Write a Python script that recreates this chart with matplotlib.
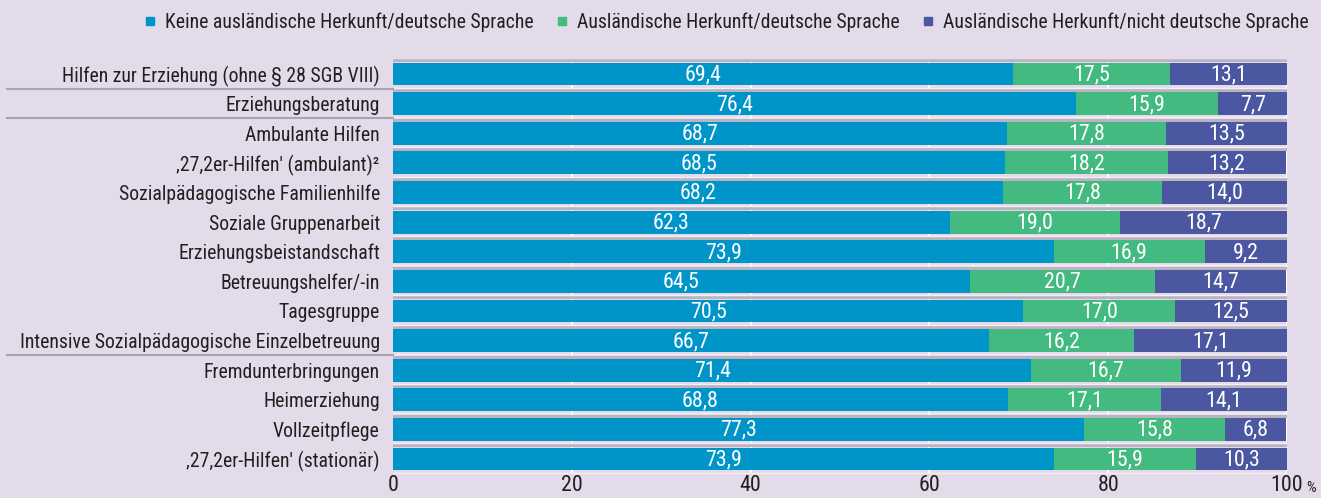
import matplotlib
matplotlib.use("Agg")
import matplotlib.pyplot as plt
from matplotlib.lines import Line2D
from matplotlib import font_manager

categories = [
    "Hilfen zur Erziehung (ohne § 28 SGB VIII)",
    "Erziehungsberatung",
    "Ambulante Hilfen",
    "‚27,2er-Hilfen' (ambulant)²",
    "Sozialpädagogische Familienhilfe",
    "Soziale Gruppenarbeit",
    "Erziehungsbeistandschaft",
    "Betreuungshelfer/-in",
    "Tagesgruppe",
    "Intensive Sozialpädagogische Einzelbetreuung",
    "Fremdunterbringungen",
    "Heimerziehung",
    "Vollzeitpflege",
    "‚27,2er-Hilfen' (stationär)",
]
keine = [69.4, 76.4, 68.7, 68.5, 68.2, 62.3, 73.9, 64.5, 70.5, 66.7, 71.4, 68.8, 77.3, 73.9]
ausl_dt = [17.5, 15.9, 17.8, 18.2, 17.8, 19.0, 16.9, 20.7, 17.0, 16.2, 16.7, 17.1, 15.8, 15.9]
ausl_ndt = [13.1, 7.7, 13.5, 13.2, 14.0, 18.7, 9.2, 14.7, 12.5, 17.1, 11.9, 14.1, 6.8, 10.3]
series_names = [
    "Keine ausländische Herkunft/deutsche Sprache",
    "Ausländische Herkunft/deutsche Sprache",
    "Ausländische Herkunft/nicht deutsche Sprache",
]
xticks = [0, 20, 40, 60, 80, 100]
separators_after = [0, 1, 9]

colors = ["#0095C8", "#43BB80", "#4C57A1"]
bg = "#E3DBEA"
txt = "#231F20"

avail = {f.name for f in font_manager.fontManager.ttflist}
fam = "DejaVu Sans"
for cand in ["Nimbus Sans Narrow", "Liberation Sans Narrow", "Arial Narrow", "Roboto Condensed",
             "Archivo Narrow", "PT Sans Narrow", "Fira Sans Condensed", "Pragati Narrow"]:
    if cand in avail:
        fam = cand
        break
plt.rcParams["font.family"] = [fam, "DejaVu Sans"]
FS_LABEL = 14.2
FS_VAL = 15.8

fig = plt.figure(figsize=(13.21, 4.98), dpi=100, facecolor=bg)
ax = fig.add_axes([0.2975, 0.0486, 0.9743 - 0.2975, 0.881 - 0.0486])
ax.set_facecolor(bg)

n = len(categories)
ys = list(range(n))
ax.set_xlim(0, 100)
ax.set_ylim(n - 0.5, -0.5)

# white vertical gridlines
for t in xticks[1:-1]:
    ax.axvline(t, color="white", lw=1.2, zorder=0)
ax.axvline(100, color="white", lw=1.5, zorder=0)

# gray row boundary lines
for b in [i - 0.5 for i in range(n + 1)]:
    ax.axhline(b + 0.04, color="#B9B4C0", lw=2.2, zorder=1)
    ax.axhline(b - 0.04, color="#F3EFF5", lw=1.0, zorder=1)

h = 0.77
lefts = [0.0] * n
for vals, col in zip([keine, ausl_dt, ausl_ndt], colors):
    ax.barh(ys, vals, left=lefts, height=h, color=col, zorder=2, linewidth=0)
    for y, v, l in zip(ys, vals, lefts):
        ax.text(l + v / 2, y + 0.03, f"{v:.1f}".replace(".", ","), ha="center", va="center",
                color="white", fontsize=FS_VAL, zorder=3)
    lefts = [a + b for a, b in zip(lefts, vals)]

ax.set_yticks(ys)
ax.set_yticklabels(categories, fontsize=FS_LABEL, color=txt)
ax.set_xticks(xticks)
ax.set_xticklabels([str(t) for t in xticks], fontsize=FS_VAL, color=txt)
ax.tick_params(axis="both", length=0)
ax.tick_params(axis="y", pad=9.5)
ax.tick_params(axis="x", pad=1)
for s in ax.spines.values():
    s.set_visible(False)

# separators in label area
for i in separators_after:
    y = i + 0.5
    ax.plot([-0.432, 0], [y, y], transform=ax.get_yaxis_transform(), color="#A8A3AE",
            lw=1.5, clip_on=False, zorder=1)

fig.text(0.9885, 0.006, "%", fontsize=11, color=txt, ha="left", va="bottom")

handles = [Line2D([], [], marker="s", linestyle="none", markersize=6, color=c) for c in colors]
leg = fig.legend(handles, series_names, loc="upper right", bbox_to_anchor=(1.0, 1.0), ncol=3,
                 frameon=False, fontsize=FS_LABEL, handletextpad=0.25, columnspacing=0.95,
                 labelcolor=txt, borderaxespad=0.25, handlelength=1.0)

fig.savefig("out.png", dpi=100, facecolor=bg)
